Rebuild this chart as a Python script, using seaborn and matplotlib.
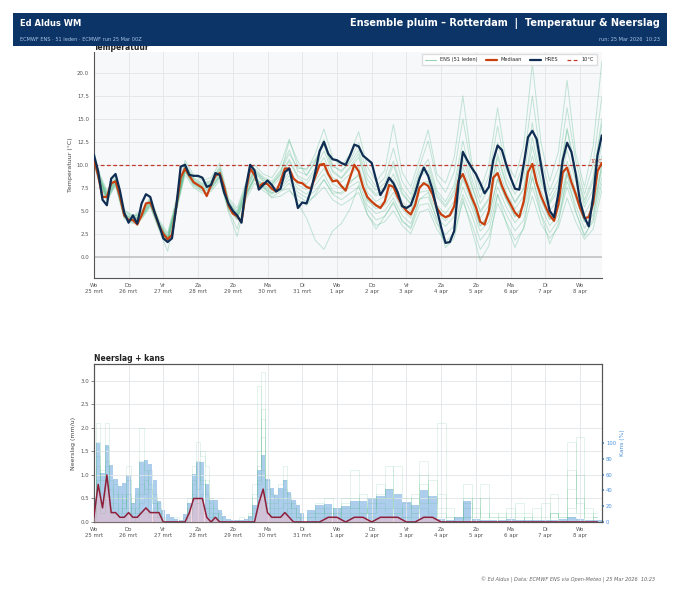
import numpy as np
import pandas as pd
import matplotlib
matplotlib.use("Agg")
import matplotlib.pyplot as plt
import seaborn as sns
from matplotlib.lines import Line2D
from matplotlib.patches import Rectangle

# ---- data ----
# uren vanaf 25 mrt 00Z
dagen = ["Wo\n25 mrt", "Do\n26 mrt", "Vr\n27 mrt", "Za\n28 mrt", "Zo\n29 mrt",
         "Ma\n30 mrt", "Di\n31 mrt", "Wo\n1 apr", "Do\n2 apr", "Vr\n3 apr",
         "Za\n4 apr", "Zo\n5 apr", "Ma\n6 apr", "Di\n7 apr", "Wo\n8 apr"]

mediaan = [10.7, 8.8, 6.5, 6.5, 8.0, 8.2, 6.6, 4.5,
           4.0, 4.0, 3.5, 4.5, 5.8, 5.9, 4.8, 3.4,
           2.5, 1.9, 2.4, 5.5, 8.6, 9.6, 8.8, 8.1,
           7.8, 7.5, 6.6, 7.8, 8.8, 9.1, 7.6, 5.6,
           4.7, 4.4, 3.8, 7.0, 9.6, 8.9, 7.6, 8.0,
           7.9, 7.4, 7.1, 8.2, 9.6, 9.6, 8.5, 8.1,
           8.0, 7.6, 7.4, 8.7, 10.0, 10.1, 9.0, 8.2,
           8.3, 7.7, 7.2, 8.6, 10.0, 9.3, 7.6, 6.5,
           6.0, 5.6, 5.3, 6.0, 7.8, 7.6, 6.5, 5.6,
           5.0, 4.6, 5.6, 7.5, 8.0, 7.7, 6.8, 5.3,
           4.6, 4.3, 4.5, 5.5, 8.3, 9.0, 7.8, 6.5,
           5.4, 3.8, 3.5, 5.0, 8.6, 9.1, 7.7, 6.6,
           5.7, 4.8, 4.3, 6.0, 9.2, 10.1, 8.0, 6.6,
           5.5, 4.5, 3.9, 5.7, 9.2, 9.7, 8.1, 6.8,
           5.3, 4.2, 4.3, 5.8, 9.3, 10.2]

hres = [11.1, 9.3, 6.2, 5.6, 8.5, 9.0, 7.2, 4.8,
        3.7, 4.5, 3.6, 5.8, 6.8, 6.5, 4.8, 3.5,
        2.0, 1.6, 2.0, 5.5, 9.8, 10.0, 8.9, 8.8,
        8.8, 8.6, 7.6, 7.8, 9.1, 8.9, 7.0, 5.8,
        5.0, 4.5, 3.7, 7.5, 10.0, 9.4, 7.3, 7.8,
        8.3, 7.8, 7.1, 7.4, 9.2, 9.6, 7.5, 5.3,
        5.9, 5.8, 7.2, 9.2, 11.5, 12.5, 11.2, 10.6,
        10.5, 10.2, 10.0, 11.0, 12.2, 12.0, 11.0, 10.6,
        10.2, 8.4, 6.7, 7.5, 8.6, 8.0, 7.0, 5.5,
        5.3, 5.6, 6.9, 8.5, 9.7, 8.8, 7.3, 5.2,
        3.2, 1.5, 1.6, 2.8, 8.0, 11.4, 10.5, 9.7,
        9.0, 8.0, 6.9, 7.6, 10.5, 12.1, 11.6, 10.0,
        8.6, 7.4, 7.3, 10.0, 13.0, 13.7, 12.8, 10.0,
        7.2, 5.0, 4.3, 6.9, 10.5, 12.4, 11.4, 9.0,
        6.0, 4.3, 3.3, 6.5, 11.0, 13.2]

# ensemble-leden (selectie), 00 uur en daarna 03/09/15/21 uur per dag
leden = [
    [10.9, 9.0, 6.8, 8.5, 4.7, 4.2, 4.8, 6.2, 3.6, 2.1, 5.8, 9.9, 8.4, 7.8, 8.1, 9.5, 5.9,
     4.7, 7.4, 9.4, 8.5, 7.9, 8.9, 10.6, 8.8, 8.3, 9.6, 11.5, 9.2, 8.5, 9.6, 10.8, 7.6,
     6.6, 7.2, 9.0, 6.8, 5.7, 8.7, 9.4, 6.5, 5.4, 6.8, 10.6, 7.7, 5.0, 6.4, 10.8, 7.8,
     6.0, 7.4, 12.0, 8.0, 5.8, 7.2, 11.6, 8.2, 5.4, 7.3, 12.2],
    [10.5, 8.6, 6.2, 7.9, 4.3, 3.8, 4.2, 5.6, 3.1, 1.6, 5.2, 9.3, 7.8, 7.2, 7.4, 8.7, 5.2,
     4.0, 6.6, 8.5, 7.6, 6.9, 7.6, 8.8, 7.4, 6.8, 7.8, 9.0, 7.2, 6.8, 7.6, 8.2, 5.6,
     4.7, 5.0, 6.4, 4.5, 3.6, 6.3, 6.5, 4.2, 3.3, 4.4, 7.6, 5.4, 2.8, 3.8, 7.6, 5.4,
     3.7, 4.8, 8.6, 5.4, 3.4, 4.5, 8.2, 5.6, 3.1, 4.6, 8.6],
    [11.3, 9.2, 7.0, 8.4, 5.0, 4.4, 4.7, 6.1, 3.8, 2.4, 6.0, 10.2, 8.6, 8.0, 8.3, 9.8, 6.2,
     5.0, 7.7, 9.6, 8.7, 8.2, 9.4, 11.6, 9.3, 8.9, 10.3, 12.8, 10.0, 9.2, 10.4, 12.4, 9.0,
     7.6, 8.6, 11.8, 8.2, 6.8, 9.8, 12.6, 8.4, 7.0, 9.2, 15.0, 9.6, 6.4, 8.8, 14.2, 9.4,
     7.6, 10.2, 17.5, 10.6, 7.2, 9.6, 16.2, 10.4, 6.8, 10.0, 17.4],
    [10.2, 8.4, 6.1, 7.7, 4.1, 3.6, 4.1, 5.4, 2.9, 0.6, 4.9, 8.9, 7.5, 6.9, 7.1, 8.3, 4.9,
     2.2, 6.2, 8.0, 7.2, 6.5, 7.1, 8.0, 6.6, 6.0, 6.6, 7.6, 6.2, 5.6, 6.2, 7.0, 4.6,
     3.4, 3.8, 5.0, 3.4, 2.5, 4.8, 5.2, 3.0, 1.6, 2.6, 6.0, 3.6, 0.8, 2.2, 5.8, 3.8,
     1.8, 3.0, 6.6, 3.6, 2.0, 3.2, 6.4, 3.8, 1.9, 3.0, 7.2],
    [11.6, 9.4, 7.2, 8.8, 5.1, 4.5, 5.0, 6.5, 4.0, 2.6, 6.3, 10.5, 8.9, 8.3, 8.6, 10.2, 6.4,
     5.3, 8.0, 10.0, 9.0, 8.6, 10.0, 12.8, 9.8, 9.4, 11.2, 13.9, 10.8, 9.8, 11.2, 13.6, 9.8,
     8.2, 9.4, 14.4, 9.2, 7.6, 10.6, 13.8, 9.0, 8.0, 10.8, 17.5, 10.4, 7.2, 10.0, 16.2, 10.2,
     8.6, 12.0, 21.0, 12.4, 8.2, 11.4, 19.2, 11.2, 7.6, 12.0, 21.2],
    [10.8, 8.9, 6.6, 8.3, 4.6, 4.0, 4.4, 5.8, 3.3, 1.7, 5.4, 9.4, 8.0, 7.4, 7.6, 8.8, 5.4,
     4.2, 6.8, 8.6, 7.8, 7.0, 7.2, 7.4, 5.8, 4.2, 1.8, 0.8, 2.8, 3.6, 5.2, 7.8, 4.6,
     3.0, 4.4, 6.0, 3.8, 3.2, 6.2, 7.0, 4.0, 1.0, 2.0, 6.4, 3.0, -0.4, 1.2, 6.8, 3.6,
     1.0, 3.2, 8.8, 4.6, 1.4, 3.6, 9.0, 5.0, 2.2, 4.2, 10.0],
    [10.6, 8.7, 6.4, 8.1, 4.4, 3.9, 4.6, 6.0, 3.5, 2.0, 5.6, 9.7, 8.2, 7.6, 7.9, 9.2, 5.7,
     4.5, 7.1, 9.1, 8.2, 7.6, 8.6, 10.4, 8.6, 7.9, 9.3, 10.8, 8.6, 8.1, 9.0, 9.8, 7.0,
     6.0, 6.6, 8.4, 6.0, 5.0, 8.0, 8.2, 5.6, 4.7, 6.0, 9.8, 7.0, 4.2, 5.6, 10.0, 7.0,
     5.2, 6.6, 11.0, 7.2, 5.0, 6.3, 10.4, 7.2, 4.6, 6.4, 11.0],
    [11.0, 8.9, 6.6, 8.3, 4.6, 4.1, 4.4, 5.7, 3.3, 1.8, 5.5, 9.5, 8.0, 7.4, 7.7, 9.0, 5.5,
     4.3, 6.9, 8.7, 7.9, 7.2, 7.9, 9.2, 7.8, 7.3, 8.3, 9.6, 7.9, 7.4, 8.2, 8.8, 6.1,
     5.2, 5.6, 7.0, 5.2, 4.2, 7.0, 7.2, 4.8, 3.9, 5.0, 8.4, 6.0, 3.3, 4.5, 8.5, 6.2,
     4.3, 5.5, 9.4, 6.1, 4.1, 5.2, 9.0, 6.3, 3.8, 5.2, 9.4],
    [11.2, 9.1, 6.9, 8.5, 4.9, 4.3, 4.9, 6.3, 3.7, 2.2, 5.9, 10.0, 8.5, 7.9, 8.2, 9.6, 6.0,
     4.8, 7.5, 9.4, 8.5, 8.0, 9.2, 11.2, 9.6, 9.6, 10.6, 12.2, 9.8, 9.4, 10.2, 11.6, 8.4,
     7.2, 8.0, 10.4, 7.4, 6.2, 9.2, 10.6, 7.2, 6.0, 7.8, 12.6, 8.6, 5.8, 7.4, 12.4, 8.6,
     6.8, 8.6, 14.6, 9.2, 6.6, 8.4, 14.0, 9.4, 6.2, 8.6, 15.0],
    [10.4, 8.5, 6.3, 7.9, 4.3, 3.7, 4.3, 5.6, 3.1, 1.5, 5.1, 9.2, 7.7, 7.1, 7.3, 8.6, 5.1,
     3.0, 6.5, 8.4, 7.5, 6.8, 7.4, 8.4, 7.0, 6.4, 7.2, 8.4, 6.8, 6.2, 6.9, 7.6, 5.2,
     4.0, 4.4, 5.8, 4.0, 3.0, 5.6, 5.8, 3.6, 2.4, 3.4, 6.8, 4.6, 1.8, 3.0, 6.8, 4.6,
     2.8, 4.0, 7.6, 4.6, 2.6, 4.0, 7.6, 4.8, 2.4, 3.8, 8.0],
    [10.9, 8.8, 6.6, 8.3, 4.6, 4.1, 4.6, 6.0, 3.5, 2.1, 5.7, 9.8, 8.3, 7.7, 8.0, 9.3, 5.8,
     4.6, 7.2, 9.2, 8.3, 7.8, 9.0, 12.6, 10.4, 8.8, 10.4, 12.2, 9.4, 8.6, 9.8, 11.2, 7.8,
     6.8, 7.6, 10.0, 7.0, 5.8, 8.8, 10.0, 6.8, 5.6, 7.2, 11.6, 8.0, 4.8, 6.2, 11.2, 8.0,
     5.8, 7.4, 13.0, 8.4, 6.0, 7.8, 13.8, 9.2, 5.8, 8.2, 14.4],
    [10.7, 8.8, 6.4, 8.0, 4.4, 3.9, 4.4, 5.8, 3.3, 1.7, 5.3, 9.4, 7.9, 7.3, 7.5, 8.8, 5.3,
     4.1, 6.7, 8.6, 7.7, 6.4, 6.6, 7.2, 6.2, 5.6, 6.8, 8.4, 6.9, 7.0, 8.0, 9.0, 6.2,
     5.4, 6.0, 7.8, 5.6, 4.6, 7.6, 8.0, 5.4, 4.2, 5.4, 8.8, 6.2, 3.4, 4.6, 8.4, 6.2,
     4.4, 5.6, 9.8, 6.4, 4.0, 5.4, 9.4, 6.6, 3.8, 5.6, 10.0],
]

# neerslag: 3-uurlijks t/m 144 u, daarna 6-uurlijks
kans = [30, 100, 62, 98, 72, 55, 45, 49,
        60, 24, 43, 76, 79, 74, 53, 26,
        15, 10, 6, 4, 2, 10, 24, 61,
        76, 76, 48, 28, 28, 15, 8, 4,
        2, 2, 2, 4, 8, 21, 66, 85,
        55, 43, 34, 43, 53, 38, 28, 21,
        12,
        15, 21, 23, 18, 20, 27, 27, 30, 33, 42,
        36, 25, 22, 41, 33, 4, 2, 6, 27, 4,
        3, 2, 2, 4, 2, 2, 2, 3, 2, 4,
        6, 4, 3, 2]

neerslag_med = [0.1, 0.8, 0.3, 1.0, 0.2, 0.2, 0.1, 0.1,
                0.2, 0.1, 0.1, 0.2, 0.3, 0.2, 0.2, 0.2,
                0.0, 0.0, 0.0, 0.0, 0.0, 0.0, 0.2, 0.5,
                0.5, 0.5, 0.1, 0.0, 0.1, 0.0, 0.0, 0.0,
                0.0, 0.0, 0.0, 0.0, 0.0, 0.0, 0.4, 0.7,
                0.2, 0.1, 0.1, 0.1, 0.2, 0.1, 0.0, 0.0,
                0.0,
                0.0, 0.0, 0.1, 0.1, 0.0, 0.1, 0.1, 0.0, 0.1, 0.1,
                0.1, 0.0, 0.0, 0.1, 0.1, 0.0, 0.0, 0.0, 0.0, 0.0,
                0.0, 0.0, 0.0, 0.0, 0.0, 0.0, 0.0, 0.0, 0.0, 0.0,
                0.0, 0.0, 0.0, 0.0]

neerslag_leden = [
    [0.3, 1.4, 0.6, 2.1, 0.5, 0.4, 0.2, 0.3, 0.5, 0.2, 0.3, 0.6, 0.9, 0.5, 0.4, 0.3,
     0, 0, 0, 0, 0, 0, 0.4, 1.2, 1.0, 0.8, 0.3, 0.1, 0.2, 0, 0, 0, 0, 0, 0, 0, 0,
     0.6, 1.5, 3.2, 0.4, 0.2, 0.3, 0.2, 0.4, 0.2, 0.1, 0, 0,
     0, 0.3, 0.2, 0.3, 0.1, 0.5, 0.2, 0.4, 0.6, 1.2, 0.3, 0.1, 0.2, 1.3, 0.4, 2.1, 0,
     0, 0.3, 0, 0.2, 0, 0, 0, 0, 0.1, 0, 0, 0.2, 0, 1.7, 0.4, 0, 0.1],
    [0.1, 2.1, 0.4, 1.6, 0.9, 0.6, 0.3, 0.2, 1.2, 0.1, 0.5, 2.0, 0.7, 1.1, 0.6, 0.2,
     0.1, 0, 0, 0, 0, 0, 0.2, 0.8, 1.7, 1.4, 1.2, 0.5, 0.3, 0.1, 0, 0, 0, 0, 0, 0, 0.1,
     0.3, 2.9, 1.1, 0.9, 0.4, 0.6, 0.8, 1.2, 0.6, 0.3, 0.1, 0,
     0.2, 0.4, 0.1, 0.2, 0.5, 1.1, 0.3, 0.2, 0.4, 0.3, 1.2, 0.5, 0.3, 0.8, 0.2, 0.1, 0.1,
     0, 0.8, 0.2, 0.5, 0.1, 0, 0.3, 0.2, 0, 0.1, 0.4, 0.1, 0.2, 0.3, 1.8, 0.3, 0.1],
    [0.2, 0.9, 1.1, 1.3, 0.7, 0.5, 0.6, 0.4, 0.6, 0.3, 0.2, 0.8, 0.6, 0.7, 0.4, 0.1,
     0, 0, 0, 0.1, 0, 0.1, 0.5, 0.9, 0.7, 1.5, 0.6, 0.3, 0.1, 0, 0, 0, 0, 0, 0.1, 0, 0.2,
     0.8, 0.9, 1.8, 0.7, 0.6, 0.5, 0.3, 0.7, 0.5, 0.2, 0.2, 0.1,
     0.1, 0.2, 0.5, 0.2, 0.3, 0.3, 0.6, 0.2, 0.8, 0.5, 0.2, 0.3, 0.6, 0.4, 0.9, 0.2, 0,
     0.1, 0.4, 0.3, 0.1, 0.2, 0.1, 0, 0.4, 0.2, 0, 0, 0.6, 0.1, 1.1, 0.2, 0.1, 0],
    [0, 1.2, 0.2, 0.8, 0.4, 0.3, 0.1, 0.6, 0.3, 0, 0.1, 0.4, 0.5, 0.2, 0.3, 0.4,
     0, 0, 0, 0, 0, 0, 0.1, 0.6, 0.4, 0.6, 0.9, 0.2, 0, 0.2, 0, 0, 0, 0, 0, 0, 0,
     0.2, 0.8, 2.4, 0.3, 0.1, 0.2, 0.1, 0.2, 0.3, 0.4, 0.1, 0,
     0, 0.1, 0.3, 0.1, 0.2, 0.2, 0.1, 0.5, 0.3, 0.2, 0.1, 0.1, 0.5, 0.3, 0.1, 0.6, 0.3,
     0, 0.1, 0.5, 0, 0, 0.2, 0.1, 0, 0.1, 0.3, 0, 0.2, 0.1, 0.7, 1.0, 0, 0.2],
    [0.4, 0.5, 0.2, 0.6, 0.2, 0.1, 0.1, 0.1, 0.2, 0.1, 0, 0.2, 0.2, 0.1, 0.1, 0.1,
     0, 0, 0, 0, 0, 0, 0, 0.3, 0.4, 0.2, 0.3, 0.1, 0, 0, 0, 0, 0, 0, 0, 0, 0,
     0, 0.3, 0.5, 0.2, 0.1, 0, 0.1, 0.1, 0, 0, 0, 0,
     0, 0, 0.1, 0, 0, 0.1, 0, 0.1, 0, 0.1, 0, 0, 0.1, 0, 0, 0, 0,
     0, 0.1, 0, 0, 0, 0, 0, 0, 0, 0, 0, 0, 0, 0.1, 0, 0, 0],
    [0.2, 1.7, 0.9, 1.2, 0.3, 0.8, 0.5, 0.3, 0.9, 0.4, 0.6, 1.3, 1.1, 0.8, 0.5, 0.2,
     0, 0, 0, 0, 0, 0, 0.3, 0.5, 1.3, 0.9, 0.5, 0.4, 0.2, 0, 0, 0, 0, 0, 0, 0, 0,
     0.5, 1.2, 2.2, 0.5, 0.3, 0.4, 0.5, 0.9, 0.4, 0.3, 0.1, 0,
     0.1, 0.2, 0.2, 0.1, 0.4, 0.3, 0.2, 0.3, 0.5, 0.7, 0.2, 0.4, 0.2, 1.0, 0.5, 0.3, 0.1,
     0, 0.5, 0.1, 0.8, 0.1, 0.1, 0.2, 0.1, 0, 0, 0.1, 0.2, 0, 0.2, 0.5, 0.2, 0.1],
]

# tijdassen
uur_3 = np.arange(0, 352, 3)
uur_leden = np.r_[0, np.arange(3, 352, 6)]
uur_regen = np.r_[np.arange(0, 145, 3), np.arange(150, 349, 6)]

# kleuren
NAVY = "#0c3466"
ORANJE = "#c8400e"
HRES_KLEUR = "#0f2d52"
GROEN = "#4fb886"
BLAUW = "#4a90d9"
GRIJS = "#555555"

sns.set_theme(style="whitegrid")
plt.rcParams["font.family"] = ["DejaVu Sans"]

fig = plt.figure(figsize=(6.8, 5.95), dpi=100)
ax1 = fig.add_axes([0.138, 0.533, 0.747, 0.380])
ax2 = fig.add_axes([0.138, 0.1227, 0.747, 0.2655])

# header
fig.patches.append(Rectangle((0.019, 0.9227), 0.962, 0.0553, transform=fig.transFigure,
                             facecolor=NAVY, edgecolor="none", zorder=5))
fig.text(0.029, 0.961, "Ed Aldus WM", color="white", fontsize=6, fontweight="bold",
         va="center", zorder=6)
fig.text(0.971, 0.961, "Ensemble pluim – Rotterdam  |  Temperatuur & Neerslag", color="white",
         fontsize=7, fontweight="bold", va="center", ha="right", zorder=6)
fig.text(0.029, 0.933, "ECMWF ENS · 51 leden · ECMWF run 25 Mar 00Z", color="#a9c4e6",
         fontsize=3.6, va="center", zorder=6)
fig.text(0.971, 0.933, "run: 25 Mar 2026  10:23", color="#a9c4e6",
         fontsize=3.6, va="center", ha="right", zorder=6)
fig.text(0.963, 0.025, "© Ed Aldus | Data: ECMWF ENS via Open-Meteo | 25 Mar 2026  10:23",
         color="#666666", fontsize=3.6, style="italic", ha="right", va="center")

# ---- temperatuur ----
df_leden = pd.DataFrame({
    "uur": np.tile(uur_leden, len(leden)),
    "temp": np.concatenate(leden),
    "lid": np.repeat(np.arange(len(leden)), len(uur_leden)),
})
sns.lineplot(data=df_leden, x="uur", y="temp", units="lid", estimator=None, ax=ax1,
             color=GROEN, alpha=0.33, lw=0.7, legend=False, zorder=2)
sns.lineplot(x=uur_3, y=mediaan, ax=ax1, color=ORANJE, lw=1.6, zorder=4)
sns.lineplot(x=uur_3, y=hres, ax=ax1, color=HRES_KLEUR, lw=1.6, zorder=5)
ax1.axhline(10, color="#c0392b", ls="--", lw=0.9, dashes=(3, 2), zorder=3)
ax1.axhline(0, color="#c4c4c4", lw=1.2, zorder=1)
ax1.text(351, 10.05, "10°C", color="#c0392b", fontsize=3.4, ha="right", va="bottom")

ax1.set_ylim(-2.3, 22.3)
ax1.set_yticks(np.arange(0, 20.1, 2.5))
ax1.set_ylabel("Temperatuur (°C)", fontsize=4.5, color="#444444", labelpad=3)
ax1.set_title("Temperatuur", loc="left", fontsize=5.5, fontweight="bold", pad=1.5,
              color="#222222")

handles = [Line2D([], [], color=GROEN, lw=0.8, alpha=0.6),
           Line2D([], [], color=ORANJE, lw=1.6),
           Line2D([], [], color=HRES_KLEUR, lw=1.6),
           Line2D([], [], color="#c0392b", lw=0.9, ls="--", dashes=(3, 2))]
ax1.legend(handles, ["ENS (51 leden)", "Mediaan", "HRES", "10°C"], loc="upper right",
           ncol=4, fontsize=3.6, frameon=True, framealpha=1, edgecolor="#dddddd",
           handlelength=2.2, columnspacing=1.6, borderpad=0.6, fancybox=False,
           bbox_to_anchor=(0.995, 1.0))

# ---- neerslag ----
ax2b = ax2.twinx()
ax2.set_zorder(ax2b.get_zorder() + 1)
ax2.patch.set_visible(False)
breedte = np.where(uur_regen <= 144, 2.9, 5.8)
ax2b.bar(uur_regen, kans, width=breedte, color=BLAUW, alpha=0.45, edgecolor="none", zorder=1)
ax2b.set_ylim(0, 200)
ax2b.set_yticks(np.arange(0, 101, 20))
ax2b.grid(False)
ax2b.set_facecolor("#f7f8fa")
ax2b.tick_params(axis="y", labelsize=3.8, colors=BLAUW, length=1.5, pad=1.5)
ax2b.set_ylabel("Kans (%)", fontsize=4.3, color=BLAUW, labelpad=2)
ax2b.yaxis.set_label_coords(1.035, 0.5)

df_regen = pd.DataFrame({
    "uur": np.tile(uur_regen, len(neerslag_leden)),
    "mm": np.concatenate(neerslag_leden),
    "lid": np.repeat(np.arange(len(neerslag_leden)), len(uur_regen)),
})
sns.lineplot(data=df_regen, x="uur", y="mm", units="lid", estimator=None, ax=ax2,
             color=GROEN, alpha=0.22, lw=0.5, drawstyle="steps-mid", legend=False, zorder=2)
ax2.fill_between(uur_regen, neerslag_med, color="#f2b8c6", alpha=0.5, lw=0, zorder=3)
sns.lineplot(x=uur_regen, y=neerslag_med, ax=ax2, color="#8e1f3a", lw=1.1, zorder=4)
ax2.set_ylim(0, 3.36)
ax2.set_yticks(np.arange(0, 3.01, 0.5))
ax2.set_ylabel("Neerslag (mm/u)", fontsize=4.5, color="#444444", labelpad=3)
ax2.set_title("Neerslag + kans", loc="left", fontsize=5.5, fontweight="bold", pad=2.5,
              color="#222222")

for ax in (ax1, ax2):
    ax.set_xlim(0, 351)
    ax.set_xticks(np.arange(0, 337, 24))
    ax.set_xticklabels(dagen)
    ax.tick_params(labelsize=3.9, colors=GRIJS, length=2, pad=1.5, width=0.5)
    ax.grid(True, color="#e2e5e9", lw=0.6)
    ax.set_xlabel("")
    for s in ax.spines.values():
        s.set_color(GRIJS)
        s.set_linewidth(0.8)

ax1.set_facecolor("#f7f8fa")
ax1.spines["top"].set_visible(False)
ax1.spines["right"].set_visible(False)
for s in ax2b.spines.values():
    s.set_color(GRIJS)
    s.set_linewidth(0.8)

fig.savefig("out.png", dpi=100)
